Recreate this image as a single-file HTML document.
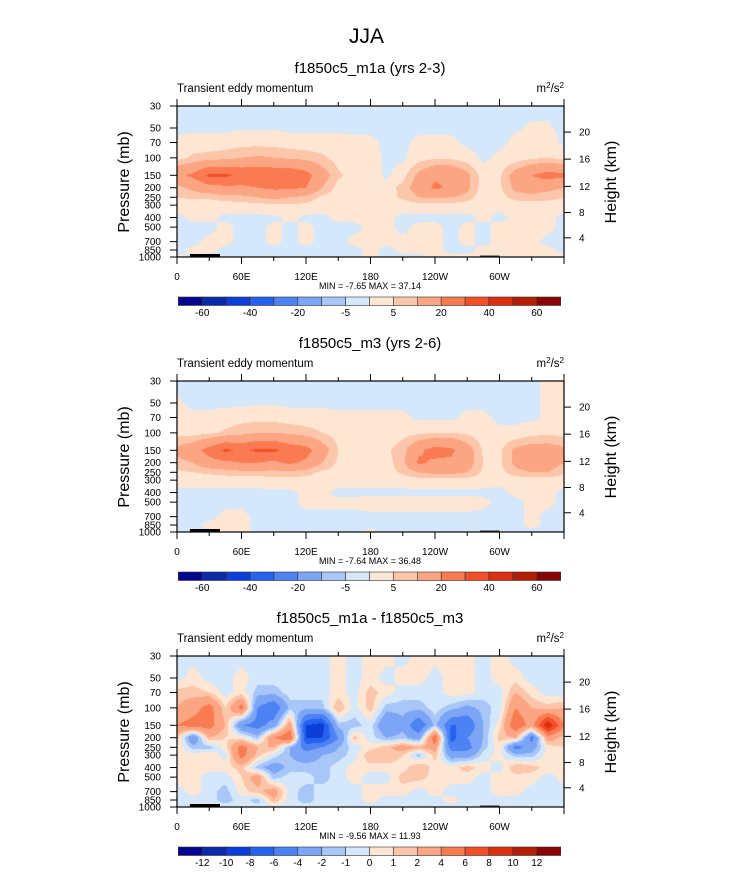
<!DOCTYPE html>
<html><head><meta charset="utf-8">
<style>
html,body{margin:0;padding:0;background:#fff;}
body{width:733px;height:888px;position:relative;overflow:hidden;font-family:"Liberation Sans",Arial,sans-serif;}
canvas{position:absolute;}
svg{position:absolute;left:0;top:0;}
</style></head>
<body>
<canvas id="c0" width="387" height="151" style="left:177px;top:106px"></canvas>
<canvas id="c1" width="387" height="151" style="left:177px;top:381px"></canvas>
<canvas id="c2" width="387" height="151" style="left:177px;top:656px"></canvas>
<svg id="ov" width="733" height="888"></svg>
<script>
const lons=[0,15,30,45,60,75,90,105,120,135,150,165,180,195,210,225,240,255,270,285,300,315,330,345,360];
const levels=[30,50,70,100,150,200,250,300,400,500,700,850,1000];
const fieldA=[
[-1,-1,-1,-1,-1,-1,-1,-1,-1,-1,-1,-1,-1,-1,-1,-1,-1,-1,-1,-1,-1,-1,-1,-1,-1],
[-1,-1,-1,-1,-0.5,-0.5,-0.5,-1,-1,-1,-1,-1,-1,-1,-1,-1,-1,-1,-1,-1,-1,-0.5,0.5,0.5,-1],
[1,2,2,2,3,3,3,2,2,2,2,1,1,-1,-1,1,1,1,-1,-1,-1,1,2,2,-1],
[3,6,7,8,10,11,10,9,8,6,3,2,2,-1,-1,3,4,4,2,-1,1,2,4,5,3],
[18,22,32,32,28,28,28,28,24,14,6,3,3,-1,3,12,18,18,12,2,4,14,20,24,22],
[8,12,16,18,18,20,22,22,20,10,3,1,1,2,7,14,22,18,12,2,4,12,14,12,10],
[5,6,6,8,8,10,12,10,8,4,2,1,1,3,6,10,11,10,8,1,3,7,8,7,5],
[2,2,2,2,3,3,4,4,4,2,1,1,1,2,2,3,3,3,2,1,1,2,2,2,2],
[-1,1,1,-1,-1,-1,-1,1,-1,-1,1,1,1,1,-1,-1,-1,-1,-1,1,-1,1,1,1,-1],
[-1,-1,-1,1,-1,-1,1,-1,1,-1,-1,-1,1,1,-1,1,1,-1,1,-1,1,1,2,1,-1],
[-1,-1,1,1,-1,-1,1,-1,1,-1,-1,1,1,1,1,1,1,-1,1,-1,1,1,1,-1,-1],
[-1,1,1,-1,-1,-1,-1,-1,-1,-1,-1,-1,1,-1,1,1,1,-1,-1,1,1,1,1,1,-1],
[1,-1,-1,-1,-1,-1,-1,-1,-1,-1,-1,-1,1,-1,-1,-1,1,1,1,1,1,1,1,1,1]];
const fieldB=[
[-1,-1,-1,-1,-1,-1,-1,-1,-1,-1,-1,-1,-1,-1,-1,-1,-1,-1,-1,-1,-1,-1,-1,1,1],
[0.5,-1,-1,-1,-1,-0.5,-0.5,-1,-1,-1,-1,-1,-1,-1,-1,-1,-1,-1,-1,-1,-1,-1,-1,1,1],
[2,1,1,2,3,3,3,2,2,2,1,1,1,1,1,-1,-1,-1,1,1,-1,-1,-1,1,2],
[3,3,4,6,8,10,10,9,7,5,3,2,2,2,3,4,5,5,4,2,1,1,3,4,3],
[12,16,24,32,28,32,32,26,24,14,5,3,3,4,8,18,24,22,14,4,4,12,14,14,12],
[8,10,16,18,20,20,18,22,18,10,4,2,2,3,8,22,18,18,14,5,4,12,16,14,10],
[4,5,6,7,8,8,8,8,7,4,3,2,2,3,6,10,12,12,10,4,3,8,10,10,6],
[2,2,2,2,2,2,3,3,3,2,2,2,2,2,2,3,3,3,3,2,1,2,2,2,2],
[-1,-1,-1,-1,-1,-1,-1,-1,1,1,-1,-1,-1,-1,-1,-1,-1,-1,-1,-1,-1,1,1,1,-1],
[-1,-1,-1,-1,-1,-1,-1,-1,1,1,1,1,2,2,2,2,2,2,2,1,-1,-1,1,1,-1],
[-1,-1,-1,1,1,-1,-1,-1,-1,-1,-1,-1,-1,-1,-1,-1,-1,-1,-1,-1,-1,-1,1,-1,-1],
[-1,-1,1,1,1,-1,-1,-1,-1,-1,-1,-1,-1,-1,-1,-1,-1,-1,-1,-1,-1,-1,1,-1,-1],
[-1,-1,-1,1,1,-1,-1,-1,-1,-1,-1,-1,1,-1,-1,-1,-1,-1,-1,-1,-1,-1,-1,-1,-1]];
const fieldDiff=[
[-.5,-.5,-.5,-.5,-.5,-.5,-.5,-.5,-.5,-.5,.5,-.5,.5,.5,-.5,.5,.5,.5,.5,-.5,.5,-.5,-.5,-.5,-.5],
[-.5,.5,-.5,-.5,.5,-.5,-.5,-.5,-.5,-.5,.5,-.5,.5,-.5,.5,.5,-.5,.5,.5,-.5,.5,.5,-.5,-.5,-.5],
[1.5,1.5,1,-.5,.5,-1.5,-1.5,-.5,-.5,-.5,.5,-.5,1.5,.5,-.5,-.5,-.5,.5,.5,-.5,-.5,2,.5,-.5,-.5],
[2,3,5,1,5,-4,-6,-1.5,-1.5,-1.5,2,-.5,1.5,-1.5,-1.5,-1.5,-.5,-1.5,-2.5,-1.5,-.5,4,2,1.5,2],
[4,5,5,2,-4,-5,-3,3,-8,-9,-1.5,-1.5,-.5,-4,-2.5,-6,-1.5,-6,-6,-2,.5,6,3,10,4],
[1.5,-4,2,1,.5,-1.5,4,6,-8,-8,-4,1.5,-.5,-2,-1.5,-3,6,-7,-4,-2,1.5,2,-5,3,1.5],
[1,-1.5,-1.5,.5,5,2,2,-2,-5,-4,-2,-.5,.5,1.5,3,2,3,-5,-5,-1.5,.5,-5,-3,.5,1],
[.5,.5,1,-.5,5,1.5,-.5,-2,-3,-2,-1.5,-.5,2,2,1,-1.5,1.5,-3,-3,-.5,.5,-1.5,-1.5,.5,.5],
[.5,.5,.5,.5,1.5,-1.5,-3,-1.5,-1.5,-1.5,-.5,.5,.5,.5,.5,2,.5,.5,1.5,.5,-.5,2,1.5,.5,.5],
[.5,.5,-.5,-.5,1,3,-1.5,-.5,-.5,-1.5,-.5,.5,-.5,-.5,1.5,1.5,.5,.5,.5,-.5,.5,.5,.5,-.5,.5],
[-.5,.5,-.5,-1.5,.5,1.5,3,-.5,-1.5,-.5,-.5,-.5,.5,.5,.5,-.5,.5,-.5,-.5,-.5,.5,.5,-.5,-.5,-.5],
[-.5,-.5,-.5,-1.5,-.5,-1.5,2,-.5,-1.5,-.5,-.5,-.5,.5,-.5,-.5,-.5,-.5,.5,-.5,-.5,-.5,-.5,-.5,-.5,-.5],
[-.5,-.5,-.5,-.5,-.5,-.5,-.5,-.5,-.5,-.5,-.5,-.5,-.5,-.5,-.5,-.5,-.5,-.5,-.5,-.5,-.5,-.5,-.5,-.5,-.5]];
const contourLevels=[-60,-50,-40,-30,-20,-10,-5,0,5,10,20,30,40,50,60];
const contourLabelsA=["-60","-40","-20","-5","5","20","40","60"];
const diffLevels=[-12,-10,-8,-6,-4,-2,-1,0,1,2,4,6,8,10,12];
const xTickLabels=["0","60E","120E","180","120W","60W"];
const pTickLabels=["30","50","70","100","150","200","250","300","400","500","700","850","1000"];
const kmTickLabels=["20","16","12","8","4"];
const kmTickPressures=[55,103,194,356,640];
const panelTitles=["f1850c5_m1a (yrs 2-3)","f1850c5_m3 (yrs 2-6)","f1850c5_m1a - f1850c5_m3"];
const minmax=["MIN =  -7.65  MAX =  37.14","MIN =  -7.64  MAX =  36.48","MIN =  -9.56  MAX =  11.93"];
const colors=["#03078e","#0b2aa9","#0c3fd9","#2563ef","#4c82f4","#7ca5f6","#a9c6f9","#d4e7fb","#fde6d3","#fcc6ab","#fba583","#fa7b52","#f24e27","#dc3011","#b31e07","#880303"];

const W=387,H=151,X0=177,TOPS=[106,381,656];
const lnTop=Math.log(30),lnBot=Math.log(1000);
function xScale(lon){return X0+lon/360*W;}
function yScale(p,top){return top+(Math.log(p)-lnTop)/(lnBot-lnTop)*H;}
function hex(c){return [parseInt(c.substr(1,2),16),parseInt(c.substr(3,2),16),parseInt(c.substr(5,2),16)];}
const rgb=colors.map(hex);
function idxFor(v,lv){let i=0;while(i<lv.length&&v>=lv[i])i++;return i;}
const lnLev=levels.map(Math.log);
function drawField(cid,field,lv){
  const ctx=document.getElementById(cid).getContext('2d');
  const img=ctx.createImageData(W,H);
  const step=lons[1]-lons[0];
  for(let py=0;py<H;py++){
    const lp=lnTop+(py+0.5)/H*(lnBot-lnTop);
    let j=0;while(j<levels.length-2&&lp>lnLev[j+1])j++;
    let fy=(lp-lnLev[j])/(lnLev[j+1]-lnLev[j]);fy=Math.max(0,Math.min(1,fy));
    for(let px=0;px<W;px++){
      const lon=(px+0.5)/W*360;
      let i=Math.min(lons.length-2,Math.floor(lon/step));
      const fx=(lon-lons[i])/step;
      const v=(field[j][i]*(1-fx)+field[j][i+1]*fx)*(1-fy)+(field[j+1][i]*(1-fx)+field[j+1][i+1]*fx)*fy;
      const c=rgb[idxFor(v,lv)];const o=(py*W+px)*4;
      img.data[o]=c[0];img.data[o+1]=c[1];img.data[o+2]=c[2];img.data[o+3]=255;
    }
  }
  ctx.putImageData(img,0,0);
}
drawField('c0',fieldA,contourLevels);
drawField('c1',fieldB,contourLevels);
drawField('c2',fieldDiff,diffLevels);

const NS="http://www.w3.org/2000/svg";
const ov=document.getElementById('ov');
function mk(tag,attrs,parent){const e=document.createElementNS(NS,tag);for(const k in attrs)e.setAttribute(k,attrs[k]);(parent||ov).appendChild(e);return e;}
function txt(s,x,y,size,anchor,parent){const t=mk('text',{x:x,y:y,'font-size':size,'text-anchor':anchor||'middle',fill:'#000','font-family':'Liberation Sans, Arial, sans-serif'},parent);t.textContent=s;return t;}

const mt=txt("JJA",366.5,43,21);



for(let k=0;k<3;k++){
  const top=TOPS[k],bot=top+H;
  const g=mk('g',{});
  
  
  const pt=txt(panelTitles[k],370,top-33,15,'middle',g);
  
  
  const lt=txt("Transient eddy momentum",177,top-14,11.5,'start',g);
  
  
  const un=mk('text',{x:564,y:top-14,'font-size':11.5,'text-anchor':'end','font-family':'Liberation Sans, Arial, sans-serif'},g);
  un.innerHTML='m<tspan dy="-4" font-size="8">2</tspan><tspan dy="4">/s</tspan><tspan dy="-4" font-size="8">2</tspan>';
  
  
  const topo1=mk('rect',{x:xScale(12),y:bot-3,width:xScale(40)-xScale(12),height:3,fill:'#000'},g);
  
  
  const topo2=mk('rect',{x:xScale(282),y:bot-1.5,width:xScale(300)-xScale(282),height:1.5,fill:'#333'},g);
  
  
  const fr=mk('rect',{x:X0,y:top,width:W,height:H,fill:'none',stroke:'#000','stroke-width':1.2},g);
  
  
  for(let lon=0;lon<=360;lon+=30){
    const x=xScale(lon),major=lon%60===0,len=major?7:4;
    const t1=mk('line',{x1:x,x2:x,y1:top,y2:top-len,stroke:'#000','stroke-width':1},g);
    
    
    const t2=mk('line',{x1:x,x2:x,y1:bot,y2:bot+len,stroke:'#000','stroke-width':1},g);
    
    
    if(major&&lon<360){
      const xl=txt(xTickLabels[lon/60],x,bot+23,10,'middle',g);
      
      
    }
  }
  levels.forEach((p,i)=>{
    const y=yScale(p,top);
    const t=mk('line',{x1:X0-7,x2:X0,y1:y,y2:y,stroke:'#000','stroke-width':1},g);
    
    
    const l=txt(pTickLabels[i],161,y+3.5,10,'end',g);
    
    
  });
  kmTickPressures.forEach((p,i)=>{
    const y=yScale(p,top);
    const t=mk('line',{x1:X0+W,x2:X0+W+7,y1:y,y2:y,stroke:'#000','stroke-width':1},g);
    
    
    const l=txt(kmTickLabels[i],579,y+3.5,10,'start',g);
    
    
  });
  const yl=txt("Pressure (mb)",0,0,16,'middle',g);
  yl.setAttribute('transform','translate(129,'+(top+76)+') rotate(-90)');
  
  
  const yr=txt("Height (km)",0,0,16,'middle',g);
  yr.setAttribute('transform','translate(616,'+(top+76)+') rotate(-90)');
  
  
  const mm=txt(minmax[k],370,bot+32,9,'middle',g);
  
  
  const cb=mk('g',{},g);
  
  
  const cx0=178.3,cw=(560.7-178.3)/16,cy=top+191,ch=8.5;
  for(let b=0;b<16;b++){
    const r=mk('rect',{x:cx0+b*cw,y:cy,width:cw,height:ch,fill:colors[b],stroke:'#333','stroke-width':0.6},cb);
    
    
  }
  if(k<2){
    contourLabelsA.forEach((s,i)=>{
      const l=txt(s,cx0+(2*i+1)*cw,cy+19,10,'middle',cb);
      
      
    });
  } else {
    diffLevels.forEach((v,i)=>{
      const l=txt(String(v),cx0+(i+1)*cw,cy+19,10,'middle',cb);
      
      
    });
  }
}
</script>
</body></html>
